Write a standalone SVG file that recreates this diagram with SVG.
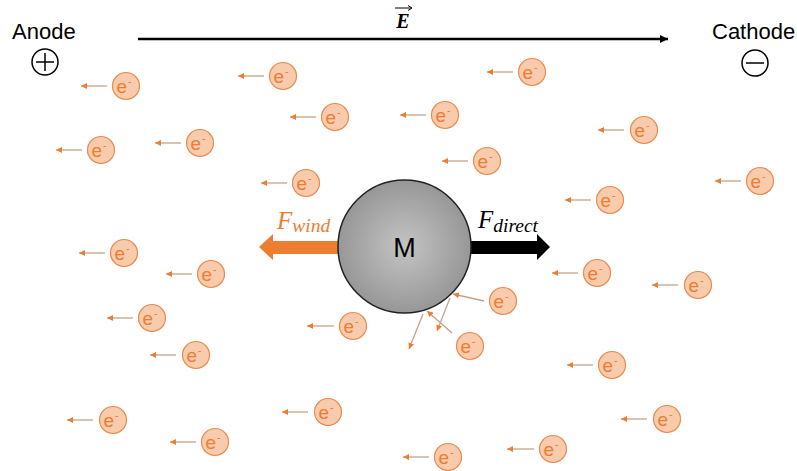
<svg xmlns="http://www.w3.org/2000/svg" width="797" height="471" viewBox="0 0 797 471">
<style>
.lbl{font-family:"Liberation Sans",Arial,sans-serif;font-size:22px;fill:#000}
.ea{stroke:#c4a28a;stroke-width:1.3;fill:none;marker-end:url(#eh)}
.math{font-family:"Liberation Serif","DejaVu Serif",serif;font-style:italic}
</style>
<defs>
<marker id="eh" markerUnits="userSpaceOnUse" markerWidth="7" markerHeight="6" refX="6" refY="3" orient="auto">
<path d="M0,0 L6,3 L0,6 z" fill="#ed7d31"/>
</marker>
<marker id="bh" markerUnits="userSpaceOnUse" markerWidth="9" markerHeight="8" refX="8" refY="4" orient="auto">
<path d="M0,0 L8,4 L0,8 z" fill="#000"/>
</marker>
<radialGradient id="mg" cx="0.5" cy="0.5" r="0.5">
<stop offset="0" stop-color="#c4c4c4"/>
<stop offset="1" stop-color="#979797"/>
</radialGradient>
<g id="e">
<circle cx="0" cy="0" r="13.5" fill="#f8cbad" stroke="#e98a4f" stroke-width="1.2"/>
<text x="-2" y="7" font-size="19" text-anchor="middle" font-family="'Liberation Sans',Arial,sans-serif" fill="#ed7d31">e<tspan font-size="11" dx="1" dy="-8">-</tspan></text>
</g>
</defs>
<rect width="797" height="471" fill="#fff"/>

<g id="anode">
<text class="lbl" x="12" y="39">Anode</text>
<circle cx="45" cy="62" r="13" fill="none" stroke="#000" stroke-width="1.5"/>
<path d="M36,62 H54 M45,53 V71" stroke="#000" stroke-width="1.5"/>
</g>
<g id="cathode">
<text class="lbl" x="712" y="39">Cathode</text>
<circle cx="755" cy="63" r="13" fill="none" stroke="#000" stroke-width="1.5"/>
<path d="M746,63 H764" stroke="#000" stroke-width="1.5"/>
</g>
<g id="field">
<line x1="138" y1="39" x2="668" y2="39" stroke="#000" stroke-width="2.5" marker-end="url(#bh)"/>
<text class="math" x="403" y="28" font-size="20" font-weight="bold" text-anchor="middle">E</text>
<line x1="395" y1="8" x2="411" y2="8" stroke="#000" stroke-width="1"/>
<path d="M408,5.5 L412,8 L408,10.5" fill="none" stroke="#000" stroke-width="1"/>
</g>

<g id="forces">
<path d="M338,241 H273 V234 L259,247 L273,260 V254 H338 Z" fill="#ed7d31"/>
<path d="M471,241 H537 V234 L550,247 L537,260 V254 H471 Z" fill="#000"/>
<text class="math" x="277" y="229" font-size="25" fill="#ed7d31">F<tspan font-size="19.5" dy="3">wind</tspan></text>
<text class="math" x="478" y="228" font-size="25" fill="#000">F<tspan font-size="19.5" dy="4">direct</tspan></text>
</g>

<g id="M">
<circle cx="404.5" cy="246.5" r="66.5" fill="url(#mg)" stroke="#222" stroke-width="1.5"/>
<text x="404.5" y="257" font-family="'Liberation Sans',Arial,sans-serif" font-size="27" text-anchor="middle" fill="#000">M</text>
</g>

<g id="connectors">
<line class="ea" x1="107" y1="86" x2="81" y2="86"/>
<line class="ea" x1="264" y1="76" x2="238" y2="76"/>
<line class="ea" x1="513" y1="72" x2="487" y2="72"/>
<line class="ea" x1="316" y1="117" x2="290" y2="117"/>
<line class="ea" x1="426" y1="115" x2="400" y2="115"/>
<line class="ea" x1="624" y1="130" x2="598" y2="130"/>
<line class="ea" x1="82" y1="150" x2="56" y2="150"/>
<line class="ea" x1="181" y1="143" x2="155" y2="143"/>
<line class="ea" x1="468" y1="161" x2="442" y2="161"/>
<line class="ea" x1="287" y1="183" x2="261" y2="183"/>
<line class="ea" x1="741" y1="181" x2="715" y2="181"/>
<line class="ea" x1="591" y1="200" x2="565" y2="200"/>
<line class="ea" x1="105" y1="253" x2="79" y2="253"/>
<line class="ea" x1="192" y1="274" x2="166" y2="274"/>
<line class="ea" x1="578" y1="273" x2="552" y2="273"/>
<line class="ea" x1="678" y1="285" x2="652" y2="285"/>
<line class="ea" x1="133" y1="318" x2="107" y2="318"/>
<line class="ea" x1="334" y1="326" x2="307" y2="326"/>
<line class="ea" x1="176" y1="355" x2="150" y2="355"/>
<line class="ea" x1="593" y1="365" x2="567" y2="365"/>
<line class="ea" x1="308" y1="412" x2="282" y2="412"/>
<line class="ea" x1="93" y1="420" x2="67" y2="420"/>
<line class="ea" x1="647" y1="419" x2="621" y2="419"/>
<line class="ea" x1="196" y1="442" x2="170" y2="442"/>
<line class="ea" x1="534" y1="449" x2="507" y2="449"/>
<line class="ea" x1="429" y1="457" x2="403" y2="457"/>
<line class="ea" x1="484" y1="301" x2="453" y2="294"/>
<line class="ea" x1="450" y1="298" x2="437" y2="331"/>
<line class="ea" x1="452" y1="333" x2="427" y2="311"/>
<line class="ea" x1="423" y1="314" x2="409" y2="349"/>
</g>

<g id="electrons">
<use id="e1" href="#e" x="126" y="86"/>
<use id="e2" href="#e" x="283" y="76"/>
<use id="e3" href="#e" x="532" y="72"/>
<use id="e4" href="#e" x="335" y="117"/>
<use id="e5" href="#e" x="445" y="115"/>
<use id="e6" href="#e" x="644" y="130"/>
<use id="e7" href="#e" x="101" y="150"/>
<use id="e8" href="#e" x="200" y="143"/>
<use id="e9" href="#e" x="487" y="161"/>
<use id="e10" href="#e" x="306" y="183"/>
<use id="e11" href="#e" x="760" y="181"/>
<use id="e12" href="#e" x="610" y="200"/>
<use id="e13" href="#e" x="124" y="253"/>
<use id="e14" href="#e" x="211" y="274"/>
<use id="e15" href="#e" x="597" y="273"/>
<use id="e16" href="#e" x="698" y="285"/>
<use id="e17" href="#e" x="152" y="318"/>
<use id="e18" href="#e" x="353" y="326"/>
<use id="e19" href="#e" x="503" y="301"/>
<use id="e20" href="#e" x="196" y="355"/>
<use id="e21" href="#e" x="470" y="346"/>
<use id="e22" href="#e" x="612" y="365"/>
<use id="e23" href="#e" x="328" y="412"/>
<use id="e24" href="#e" x="113" y="420"/>
<use id="e25" href="#e" x="667" y="419"/>
<use id="e26" href="#e" x="215" y="442"/>
<use id="e27" href="#e" x="553" y="449"/>
<use id="e28" href="#e" x="448" y="457"/>
</g>
</svg>
